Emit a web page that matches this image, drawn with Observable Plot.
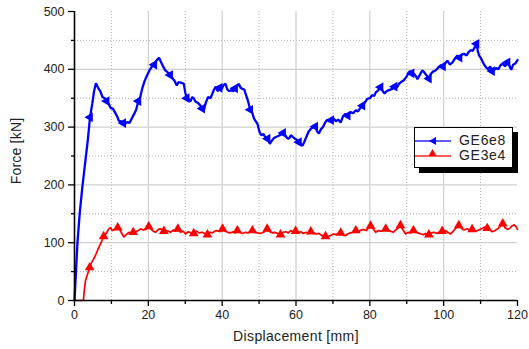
<!DOCTYPE html>
<html>
<head>
<meta charset="utf-8">
<script src="https://cdn.jsdelivr.net/npm/d3@7"></script>
<script src="https://cdn.jsdelivr.net/npm/@observablehq/plot@0.6"></script>
<style>
  html, body { margin: 0; padding: 0; background: #fff; }
  #wrap { position: relative; width: 529px; height: 349px; font-family: "Liberation Sans", Arial, sans-serif; color: #222; }
  #wrap svg { position: absolute; left: 0; top: 0; }
  .ylab { position: absolute; left: 16px; top: 151px; transform: translate(-50%, -50%) rotate(-90deg); font-size: 14px; letter-spacing: 0.2px; white-space: nowrap; }
  .xlab { position: absolute; left: 296px; top: 336px; transform: translate(-50%, -50%); font-size: 14px; letter-spacing: 0.35px; white-space: nowrap; }
  .legend { position: absolute; left: 414px; top: 127px; width: 97px; height: 39px; border: 1px solid #000; background: #fff; box-shadow: 5px 5px 0 #000; }
  .legend .row { position: absolute; left: 0; height: 15px; width: 97px; }
  .legend svg { position: absolute; left: 4px; top: 0; }
  .legend span { position: absolute; left: 44px; top: -1px; font-size: 14px; letter-spacing: 0.7px; line-height: 16px; }
</style>
</head>
<body>
<div id="wrap"></div>
<script>
// ---- data ----
const xTicks = [0, 20, 40, 60, 80, 100, 120];
const xMinorTicks = [10, 30, 50, 70, 90, 110];
const yTicks = [0, 100, 200, 300, 400, 500];
const yMinorTicks = [50, 150, 250, 350, 450];
const xGrid = [20, 40, 60, 80, 100];
const yGrid = [100, 200, 300, 400];

const seriesNames = ["GE6e8", "GE3e4"];
const seriesColors = ["#0000ff", "#ff0000"];

// GE6e8: [displacement mm, force kN]
const ge6e8 = [
[0,0],[0.4,50],[0.8,100],[1.4,150],[2.1,195],[2.6,222],[3.1,250],[3.6,277],[4.2,317],[4.8,340],[5.3,362],[5.8,376],[6.4,368],[7.0,362],[7.6,352],[8.2,350],[8.7,345],[9.3,340],[9.8,333],[10.4,332],[11.0,325],[11.6,318],[12.0,311],[12.6,310],[13.2,307],[13.8,306],[14.4,309],[14.9,307],[15.5,315],[16.1,322],[16.7,330],[17.3,345],[17.8,352],[18.4,368],[19.0,380],[19.7,390],[20.3,398],[21.0,405],[21.6,408],[22.2,415],[22.9,420],[23.4,413],[24.0,405],[24.6,398],[25.2,395],[25.9,390],[26.5,385],[27.1,380],[27.7,372],[28.2,378],[28.8,377],[29.6,375],[30.0,360],[30.4,350],[31.0,348],[31.4,344],[31.9,352],[32.3,350],[32.8,344],[33.4,342],[34.0,338],[34.6,332],[35.1,330],[35.6,343],[36.2,352],[36.8,350],[37.3,357],[37.8,365],[38.3,370],[38.8,362],[39.3,368],[39.8,365],[40.4,373],[40.9,375],[41.4,365],[41.9,362],[42.4,364],[43.0,362],[43.5,367],[44.0,370],[44.5,375],[45.0,368],[45.5,366],[46.0,365],[46.5,355],[47.0,345],[47.6,330],[48.1,326],[48.6,315],[49.1,310],[49.6,305],[50.1,292],[50.6,286],[51.2,288],[51.7,282],[52.3,280],[52.9,271],[53.4,276],[54.0,281],[54.6,283],[55.3,285],[55.9,287],[56.5,290],[57.1,286],[57.6,281],[58.1,280],[58.6,286],[59.1,283],[59.7,280],[60.2,278],[60.8,274],[61.4,270],[61.8,268],[62.3,275],[62.8,283],[63.4,292],[64.0,297],[64.6,300],[65.2,301],[65.8,292],[66.2,289],[66.7,296],[67.3,300],[67.9,308],[68.5,313],[69.0,310],[69.5,312],[70.2,315],[70.8,310],[71.4,313],[72.1,308],[72.7,318],[73.4,323],[74.0,320],[74.8,326],[75.5,324],[76.2,329],[76.8,327],[77.4,333],[78.0,337],[78.6,342],[79.3,349],[80.0,350],[80.6,355],[81.2,354],[81.6,360],[82.2,363],[82.9,369],[83.5,362],[84.0,358],[84.5,362],[85.2,364],[86.1,366],[86.7,370],[87.3,368],[87.9,375],[88.5,378],[89.2,381],[89.8,386],[90.3,391],[90.8,397],[91.3,393],[92.0,392],[92.5,388],[92.9,383],[93.5,390],[94.2,398],[94.7,395],[95.3,390],[96.0,384],[96.5,392],[97.1,396],[97.8,398],[98.4,402],[99.2,407],[99.8,405],[100.4,410],[101.0,415],[101.7,408],[102.4,412],[103.0,418],[103.7,424],[104.3,420],[104.9,425],[105.5,427],[106.2,424],[106.8,430],[107.3,433],[107.9,432],[108.4,438],[108.9,444],[109.3,430],[109.6,424],[110.2,418],[110.8,410],[111.4,404],[112.0,400],[112.6,405],[113.1,397],[113.6,398],[114.2,402],[114.8,400],[115.4,407],[116.0,410],[116.6,405],[117.3,412],[117.8,406],[118.3,399],[118.8,408],[119.4,410],[120,416]
];

// GE3e4: [displacement mm, force kN]
const ge3e4 = [
[0,3],[0.5,0],[1.0,0],[1.5,0],[2.0,0],[2.4,0],[2.7,20],[3.0,35],[3.5,45],[4.1,57],[4.6,65],[5.2,72],[5.8,80],[6.6,92],[7.2,100],[7.9,111],[8.5,115],[9.3,124],[9.8,126],[10.2,121],[10.8,123],[11.7,126],[12.3,122],[12.9,115],[13.4,110],[14.0,114],[14.7,118],[15.3,116],[15.9,118],[16.6,119],[17.3,121],[17.9,124],[18.6,122],[19.3,123],[20.1,128],[20.7,124],[21.3,120],[22.0,118],[22.7,123],[23.3,124],[24.2,120],[25.0,121],[26.0,118],[26.8,122],[27.4,120],[28.0,124],[28.7,118],[29.4,120],[30.1,115],[30.8,119],[31.5,117],[32.3,116],[33.0,120],[33.8,117],[34.6,118],[35.3,116],[36.0,114],[36.7,118],[37.4,117],[38.0,120],[38.7,121],[39.4,119],[40.1,124],[40.8,120],[41.5,118],[42.2,117],[43.0,119],[43.6,117],[44.1,121],[44.8,118],[45.5,116],[46.3,118],[47.0,117],[47.6,119],[48.2,121],[48.9,118],[49.6,117],[50.4,116],[51.2,118],[52.2,124],[52.9,119],[53.6,117],[54.3,118],[55.0,116],[55.8,114],[56.5,118],[57.2,119],[57.9,117],[58.6,121],[59.3,118],[59.9,120],[60.6,117],[61.3,119],[62.0,116],[62.7,118],[63.4,116],[64.0,119],[64.8,117],[65.5,115],[66.2,116],[67.0,112],[67.6,113],[68.0,111],[68.8,111],[69.5,113],[70.2,115],[70.8,114],[71.5,116],[72.1,117],[72.8,113],[73.4,112],[74.0,115],[74.7,117],[75.4,118],[76.2,121],[76.9,119],[77.6,122],[78.3,123],[79.0,121],[79.6,125],[80.2,129],[80.9,124],[81.6,118],[82.3,121],[83.0,120],[83.6,122],[84.3,124],[84.9,121],[85.6,120],[86.3,118],[87.0,122],[87.6,125],[88.3,130],[89.0,122],[89.7,115],[90.4,118],[91.1,117],[91.8,121],[92.4,118],[93.1,117],[93.8,115],[94.5,114],[95.2,116],[96.0,114],[96.7,117],[97.4,118],[98.2,116],[98.9,119],[99.6,120],[100.4,121],[101.1,118],[101.9,115],[102.6,120],[103.3,125],[104.1,130],[104.8,125],[105.5,122],[106.3,124],[107.0,122],[107.7,123],[108.4,120],[109.1,121],[109.8,123],[110.5,125],[111.2,127],[111.8,125],[112.5,122],[113.2,119],[113.9,121],[114.6,124],[115.3,128],[116.0,133],[116.6,126],[117.3,123],[117.9,125],[118.5,129],[119.1,131],[119.6,128],[120,123]
];

// displacements where the symbol markers sit
const ge6e8MarkerX = [4.3, 8.7, 13.0, 17.4, 21.7, 26.1, 30.4, 34.8, 39.1, 43.5, 47.8, 52.2, 56.5, 60.9, 65.2, 69.6, 73.9, 78.3, 82.6, 87.0, 91.3, 95.7, 100.0, 104.3, 108.7, 113.0, 117.4];
const ge3e4MarkerX = [4, 8, 12, 16, 20, 24, 28, 32, 36, 40, 44, 48, 52, 56, 60, 64, 68, 72, 76, 80, 84, 88, 92, 96, 100, 104, 108, 112, 116];

// ---- build ----
const toRows = (arr) => arr.map(([x, f]) => ({x, f}));
const blue = toRows(ge6e8);
const red = toRows(ge3e4);
const nearest = (rows, xs) => xs.map(mx => rows.reduce((b, r) => Math.abs(r.x - mx) < Math.abs(b.x - mx) ? r : b));
const blueMarks = nearest(blue, ge6e8MarkerX);
const redMarks = nearest(red, ge3e4MarkerX);

const chart = Plot.plot({
  width: 529,
  height: 349,
  marginLeft: 74,
  marginRight: 12,
  marginTop: 11,
  marginBottom: 49,
  style: {fontFamily: "'Liberation Sans', Arial, sans-serif", fontSize: "12px", color: "#222", background: "transparent", overflow: "visible"},
  x: {domain: [0, 120]},
  y: {domain: [0, 500]},
  marks: [
    Plot.ruleY(yMinorTicks, {stroke: "#b0b0b0", strokeWidth: 1, strokeDasharray: "1,2"}),
    Plot.ruleX(xMinorTicks, {stroke: "#b0b0b0", strokeWidth: 1, strokeDasharray: "1,2"}),
    Plot.ruleY(yGrid, {stroke: "#cfcfcf", strokeWidth: 1.2}),
    Plot.ruleX(xGrid, {stroke: "#cfcfcf", strokeWidth: 1.2}),
    Plot.axisX(xTicks, {tickSize: 6, tickPadding: 4, stroke: "#000", strokeWidth: 1.3, fill: "#222", label: null, fontSize: 12.5, letterSpacing: 0.4}),
    Plot.axisX(xMinorTicks, {tickSize: 4, text: null, stroke: "#000", strokeWidth: 1.3, label: null}),
    Plot.axisY(yTicks, {tickSize: 6, tickPadding: 4, stroke: "#000", strokeWidth: 1.3, fill: "#222", label: null, fontSize: 12.5, letterSpacing: 0.4}),
    Plot.axisY(yMinorTicks, {tickSize: 3, text: null, stroke: "#000", strokeWidth: 1.3, label: null}),
    Plot.line(blue, {x: "x", y: "f", stroke: seriesColors[0], strokeWidth: 2.3, strokeLinejoin: "miter"}),
    Plot.dot(blueMarks, {x: "x", y: "f", symbol: "triangle", r: 3.6, fill: seriesColors[0], rotate: -90}),
    Plot.line(red, {x: "x", y: "f", stroke: seriesColors[1], strokeWidth: 1.7}),
    Plot.dot(redMarks, {x: "x", y: "f", symbol: "triangle", r: 3.6, fill: seriesColors[1]}),
    Plot.ruleX([0], {stroke: "#000", strokeWidth: 1.6}),
    Plot.ruleY([0], {stroke: "#000", strokeWidth: 1.6})
  ]
});

const wrap = document.getElementById("wrap");
wrap.appendChild(chart);

const ylab = document.createElement("div");
ylab.className = "ylab"; ylab.textContent = "Force [kN]";
wrap.appendChild(ylab);
const xlab = document.createElement("div");
xlab.className = "xlab"; xlab.textContent = "Displacement [mm]";
wrap.appendChild(xlab);

const legend = document.createElement("div");
legend.className = "legend";
const legendSyms = [
  '<path d="M10,4 L17,0 L17,8 Z" />',   // left-pointing triangle
  '<path d="M13.5,0 L17.5,7 L9.5,7 Z" />' // up triangle
];
seriesNames.forEach((name, i) => {
  const row = document.createElement("div");
  row.className = "row";
  row.style.top = (i === 0 ? 5 : 20) + "px";
  row.innerHTML = `<svg width="40" height="14" viewBox="0 0 40 14"><line x1="0" y1="8" x2="36" y2="8" stroke="${seriesColors[i]}" stroke-width="1.5" opacity="0.85"/><g fill="${seriesColors[i]}" transform="translate(4,${i===0?4:1})">${legendSyms[i]}</g></svg><span>${name}</span>`;
  legend.appendChild(row);
});
wrap.appendChild(legend);
</script>
</body>
</html>
